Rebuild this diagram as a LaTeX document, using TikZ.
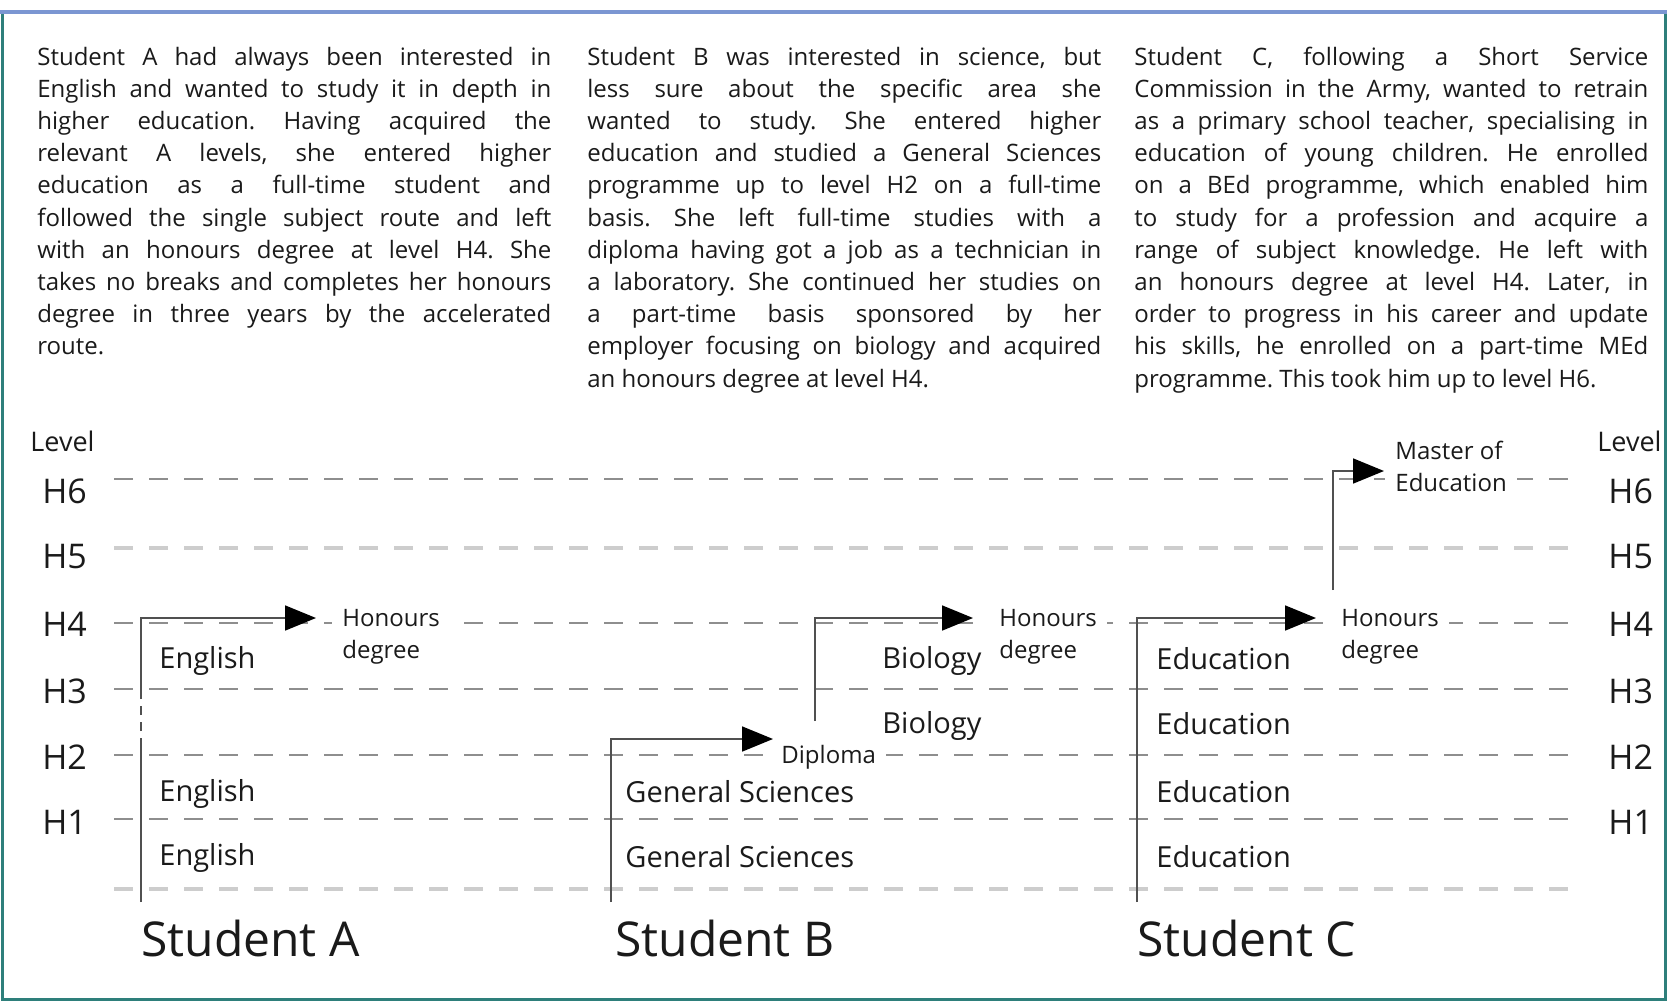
\documentclass[tikz,border=0pt]{standalone}
\usepackage{fontspec}
\setmainfont{Open Sans}
\usetikzlibrary{arrows.meta}

\definecolor{ink}{HTML}{1A1A1A}
\definecolor{routegrey}{HTML}{505050}
\definecolor{dashgrey}{HTML}{8E8E8E}
\definecolor{faintgrey}{HTML}{CDCDCD}
\definecolor{frametop}{HTML}{7B96D2}
\definecolor{frameside}{HTML}{2E7F7B}

% one justified line of a case description
\newcommand\jl[1]{\makebox[\linewidth][s]{#1}\\}

\begin{document}
\frenchspacing
\begin{tikzpicture}[x=0.5pt,y=-0.5pt,
  levelline/.style={draw=dashgrey, line width=1pt, dash pattern=on 9.5pt off 8pt},
  faintline/.style={draw=faintgrey, line width=1.7pt, dash pattern=on 9.5pt off 8pt},
  route/.style={draw=routegrey, line width=0.9pt},
  award/.style={route, -{Triangle[length=15.5pt,width=12.5pt,color=black]}},
  para/.style={inner sep=0pt, text=ink, anchor=base west},
  subject/.style={font=\fontsize{14.5}{17}\selectfont, text=ink, anchor=west, inner sep=0pt},
  qual/.style={font=\fontsize{12}{16}\selectfont, text=ink, anchor=west, align=left, fill=white, inner xsep=5pt, inner ysep=1pt},
  levelno/.style={font=\fontsize{17}{20}\selectfont, text=ink, anchor=west, inner sep=0pt},
  levelhead/.style={font=\fontsize{13.5}{16}\selectfont, text=ink, anchor=west, inner sep=0pt},
  student/.style={font=\fontsize{24}{28}\selectfont, text=ink, anchor=west, inner sep=0pt},
]
\useasboundingbox (0,0) rectangle (1667,1002);

% frame
\draw[draw=frameside, line width=1.5pt] (2,12) -- (2,999) -- (1665,999) -- (1665,12);
\draw[draw=frametop, line width=1.8pt] (0,12) -- (1667,12);

% case descriptions
\node[para] (textA) at (37,65) {\begin{minipage}[t]{257pt}\fontsize{12}{16.1}\selectfont
\jl{Student A had always been interested in}
\jl{English and wanted to study it in depth in}
\jl{higher education. Having acquired the}
\jl{relevant A levels, she entered higher}
\jl{education as a full-time student and}
\jl{followed the single subject route and left}
\jl{with an honours degree at level H4. She}
\jl{takes no breaks and completes her honours}
\jl{degree in three years by the accelerated}
route.\end{minipage}};

\node[para] (textB) at (587,65) {\begin{minipage}[t]{257pt}\fontsize{12}{16.1}\selectfont
\jl{Student B was interested in science, but}
\jl{less sure about the specific area she}
\jl{wanted to study. She entered higher}
\jl{education and studied a General Sciences}
\jl{programme up to level H2 on a full-time}
\jl{basis. She left full-time studies with a}
\jl{diploma having got a job as a technician in}
\jl{a laboratory. She continued her studies on}
\jl{a part-time basis sponsored by her}
\jl{employer focusing on biology and acquired}
an honours degree at level H4.\end{minipage}};

\node[para] (textC) at (1134,65) {\begin{minipage}[t]{257pt}\fontsize{12}{16.1}\selectfont
\jl{Student C, following a Short Service}
\jl{Commission in the Army, wanted to retrain}
\jl{as a primary school teacher, specialising in}
\jl{education of young children. He enrolled}
\jl{on a BEd programme, which enabled him}
\jl{to study for a profession and acquire a}
\jl{range of subject knowledge. He left with}
\jl{an honours degree at level H4. Later, in}
\jl{order to progress in his career and update}
\jl{his skills, he enrolled on a part-time MEd}
programme. This took him up to level H6.\end{minipage}};

% level guide lines
\draw[levelline] (114,479) -- (1568,479);
\draw[faintline] (114,548) -- (1568,548);
\draw[levelline] (114,623) -- (1568,623);
\draw[levelline] (114,689) -- (1568,689);
\draw[levelline] (114,755) -- (1568,755);
\draw[levelline] (114,819) -- (1568,819);
\draw[faintline] (114,889) -- (1568,889);

% level scale, both sides
\node[levelhead] (levL) at (30,441) {Level};
\node[levelhead] (levR) at (1597,441) {Level};
\node[levelno] (h6L) at (42,491) {H6};
\node[levelno] (h5L) at (42,557) {H5};
\node[levelno] (h4L) at (42,624) {H4};
\node[levelno] (h3L) at (42,691) {H3};
\node[levelno] (h2L) at (42,757) {H2};
\node[levelno] (h1L) at (42,822) {H1};
\node[levelno] (h6R) at (1608,491) {H6};
\node[levelno] (h5R) at (1608,557) {H5};
\node[levelno] (h4R) at (1608,624) {H4};
\node[levelno] (h3R) at (1608,691) {H3};
\node[levelno] (h2R) at (1608,757) {H2};
\node[levelno] (h1R) at (1608,822) {H1};

% route corners and arrow ends
\coordinate (aFoot) at (141,902);
\coordinate (aH2) at (141,747);
\coordinate (aH3) at (141,690);
\coordinate (aTop) at (141,618);
\coordinate (aTip) at (316,618);
\coordinate (bFoot) at (611,902);
\coordinate (bTop) at (611,739);
\coordinate (bTip) at (773,739);
\coordinate (bbFoot) at (815,721);
\coordinate (bbTop) at (815,618);
\coordinate (bbTip) at (973,618);
\coordinate (cFoot) at (1137,902);
\coordinate (cTop) at (1137,618);
\coordinate (cTip) at (1316,618);
\coordinate (mFoot) at (1333,590);
\coordinate (mTop) at (1333,471);
\coordinate (mTip) at (1384,471);

% student A
\draw[route] (aFoot) -- (aH2);
\draw[route, dash pattern=on 4.5pt off 3.5pt] (aH2) -- (aH3);
\draw[award] (aH3) -- (aTop) -- (aTip);
\node[subject] (engA3) at (159,661) {English};
\node[subject] (engA2) at (159,794) {English};
\node[subject] (engA1) at (159,858) {English};
\node[qual] (honA) at (332,637) {Honours\\degree};
\node[student] (stA) at (141,938) {Student A};

% student B
\draw[award] (bFoot) -- (bTop) -- (bTip);
\draw[award] (bbFoot) -- (bbTop) -- (bbTip);
\node[subject] (gsB2) at (625,792) {General Sciences};
\node[subject] (gsB1) at (625,857) {General Sciences};
\node[qual] (dipB) at (771,757) {Diploma};
\node[subject] (bioB3) at (882,661) {Biology};
\node[subject] (bioB2) at (882,726) {Biology};
\node[qual] (honB) at (989,637) {Honours\\degree};
\node[student] (stB) at (615,938) {Student B};

% student C
\draw[award] (cFoot) -- (cTop) -- (cTip);
\draw[award] (mFoot) -- (mTop) -- (mTip);
\node[subject] (eduC4) at (1156,659) {Education};
\node[subject] (eduC3) at (1156,724) {Education};
\node[subject] (eduC2) at (1156,792) {Education};
\node[subject] (eduC1) at (1156,857) {Education};
\node[qual] (honC) at (1331,637) {Honours\\degree};
\node[qual] (medC) at (1385,466) {Master of\\Education};
\node[student] (stC) at (1137,938) {Student C};
\end{tikzpicture}
\end{document}
